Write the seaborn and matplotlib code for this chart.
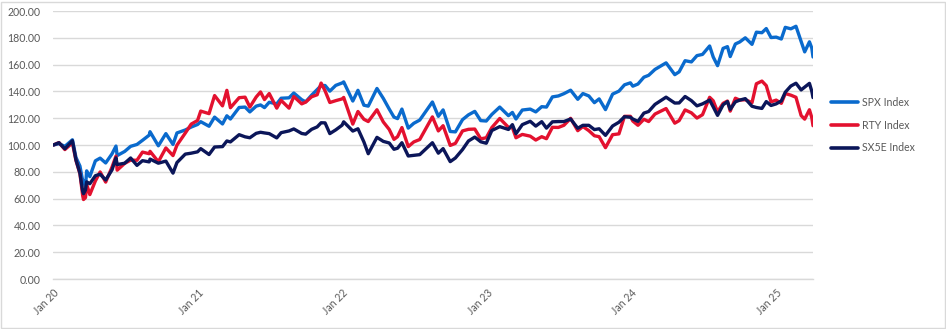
import matplotlib
matplotlib.use("Agg")
import matplotlib.pyplot as plt
from matplotlib.lines import Line2D
from matplotlib.patches import Rectangle
from matplotlib.ticker import FuncFormatter, MultipleLocator
import pandas as pd
import seaborn as sns

# Index levels rebased to 100 at the start of 2020
dates = [
    # 2020
    "2020-01-02", "2020-01-16", "2020-01-31", "2020-02-19", "2020-02-28", "2020-03-09",
    "2020-03-16", "2020-03-18", "2020-03-23", "2020-03-26", "2020-04-03", "2020-04-17",
    "2020-04-29", "2020-05-13", "2020-05-29", "2020-06-08", "2020-06-11", "2020-06-30",
    "2020-07-15", "2020-07-31", "2020-08-14", "2020-08-31", "2020-09-02", "2020-09-23",
    "2020-10-12", "2020-10-30", "2020-11-09", "2020-11-30", "2020-12-15", "2020-12-31",
    # 2021
    "2021-01-08", "2021-01-29", "2021-02-12", "2021-03-04", "2021-03-15", "2021-03-24",
    "2021-04-15", "2021-04-30", "2021-05-12", "2021-05-28", "2021-06-08", "2021-06-18",
    "2021-06-30", "2021-07-19", "2021-07-30", "2021-08-19", "2021-08-31", "2021-09-20",
    "2021-09-30", "2021-10-15", "2021-10-29", "2021-11-08", "2021-11-18", "2021-11-30",
    "2021-12-15", "2021-12-31",
    # 2022
    "2022-01-04", "2022-01-27", "2022-02-09", "2022-02-24", "2022-03-07", "2022-03-29",
    "2022-04-14", "2022-04-29", "2022-05-11", "2022-05-20", "2022-05-31", "2022-06-16",
    "2022-06-30", "2022-07-15", "2022-08-16", "2022-08-31", "2022-09-12", "2022-09-30",
    "2022-10-13", "2022-10-31", "2022-11-15", "2022-12-01", "2022-12-16", "2022-12-30",
    # 2023
    "2023-01-13", "2023-02-02", "2023-02-24", "2023-03-06", "2023-03-15", "2023-03-31",
    "2023-04-20", "2023-05-04", "2023-05-19", "2023-05-31", "2023-06-15", "2023-06-30",
    "2023-07-14", "2023-07-31", "2023-08-18", "2023-08-31", "2023-09-15", "2023-09-29",
    "2023-10-11", "2023-10-27", "2023-11-14", "2023-11-30", "2023-12-14", "2023-12-29",
    # 2024
    "2024-01-04", "2024-01-17", "2024-02-01", "2024-02-13", "2024-02-29", "2024-03-28",
    "2024-04-19", "2024-04-30", "2024-05-15", "2024-05-31", "2024-06-14", "2024-06-28",
    "2024-07-16", "2024-07-25", "2024-08-05", "2024-08-19", "2024-08-30", "2024-09-06",
    "2024-09-19", "2024-09-30", "2024-10-14", "2024-10-31", "2024-11-11", "2024-11-25",
    "2024-12-06", "2024-12-18", "2024-12-31",
    # 2025
    "2025-01-13", "2025-01-23", "2025-02-06", "2025-02-19", "2025-03-04", "2025-03-13",
    "2025-03-25", "2025-03-31", "2025-04-03",
]

spx = [
    100.0, 101.0, 99.0, 103.9, 90.7, 84.3, 73.2, 73.6, 68.7, 80.7, 76.4, 88.2,
    90.2, 86.6, 93.4, 99.2, 92.1, 95.2, 99.0, 100.4, 103.5, 107.4, 109.9, 99.4,
    108.5, 100.4, 109.0, 111.2, 113.4, 115.3,
    117.4, 114.0, 120.8, 115.7, 121.8, 119.4, 128.0, 128.3, 124.7, 129.0, 129.9, 127.9,
    131.9, 130.7, 134.9, 135.2, 138.8, 133.8, 132.2, 137.2, 141.4, 144.3, 144.4, 140.2,
    144.5, 146.3,
    147.1, 132.8, 140.8, 129.7, 129.0, 142.2, 134.8, 126.8, 120.8, 119.7, 126.8, 112.6,
    116.2, 118.6, 132.1, 121.4, 126.2, 110.1, 109.8, 118.9, 122.5, 125.1, 118.2, 117.9,
    122.8, 128.3, 121.9, 124.3, 119.4, 126.1, 126.8, 124.7, 128.6, 128.3, 135.9, 136.6,
    138.3, 140.9, 134.1, 138.4, 136.6, 131.6, 134.4, 126.4, 138.0, 140.2, 144.9, 146.4,
    143.9, 145.5, 150.6, 152.0, 156.4, 161.3, 152.5, 154.6, 162.9, 162.0, 166.7, 167.6,
    173.9, 165.7, 159.2, 172.1, 173.4, 166.0, 175.4, 176.9, 180.0, 175.1, 184.2, 183.8,
    186.9, 180.2, 180.5,
    179.1, 187.8, 186.7, 188.6, 177.4, 169.5, 177.0, 172.3, 165.7,
]

rty = [
    100.0, 101.8, 96.6, 101.6, 88.4, 78.6, 62.1, 59.3, 60.7, 70.7, 63.0, 73.2,
    79.9, 72.3, 83.5, 91.7, 81.2, 86.3, 88.7, 88.6, 94.7, 93.5, 95.3, 87.5,
    97.8, 92.1, 99.9, 108.9, 115.6, 118.3,
    125.3, 123.4, 136.9, 129.2, 140.8, 127.8, 135.3, 135.7, 128.3, 135.8, 139.6, 133.9,
    138.4, 127.5, 133.3, 127.5, 136.2, 130.7, 132.0, 136.0, 137.5, 146.2, 140.4, 131.7,
    133.1, 134.4,
    135.5, 115.6, 125.0, 119.2, 117.5, 126.3, 117.2, 111.6, 104.2, 106.2, 113.0, 98.8,
    102.3, 104.1, 121.0, 110.5, 114.4, 99.7, 101.2, 110.5, 111.7, 111.9, 104.6, 105.4,
    113.0, 119.8, 113.2, 113.0, 105.4, 107.9, 106.6, 103.7, 106.2, 104.7, 113.2, 113.1,
    114.7, 119.9, 110.7, 113.8, 110.7, 106.9, 106.2, 98.0, 107.7, 108.3, 121.4, 121.4,
    117.9, 114.7, 119.2, 117.5, 123.1, 127.2, 116.3, 118.2, 126.2, 124.0, 120.1, 122.6,
    135.6, 133.0, 124.8, 131.1, 132.8, 125.3, 134.9, 133.5, 133.8, 131.6, 145.7, 147.7,
    144.3, 132.2, 133.5,
    131.1, 138.4, 137.2, 135.6, 122.0, 119.3, 126.3, 120.4, 114.4,
]

sx5e = [
    100.0, 101.7, 97.2, 103.2, 88.9, 79.0, 65.4, 63.7, 66.4, 72.5, 71.1, 77.1,
    78.2, 73.9, 81.4, 90.4, 85.4, 86.4, 90.3, 84.8, 88.3, 87.4, 89.5, 86.4,
    88.0, 79.0, 86.9, 93.2, 93.9, 94.9,
    97.3, 92.9, 98.5, 98.8, 103.0, 102.3, 107.7, 106.1, 105.4, 108.7, 109.5, 109.0,
    108.5, 105.3, 109.2, 110.5, 112.0, 108.6, 108.1, 111.7, 113.5, 116.6, 116.5, 108.5,
    111.3, 114.8,
    117.3, 110.4, 112.1, 102.3, 93.5, 105.7, 102.7, 101.5, 96.8, 97.6, 101.7, 91.8,
    92.3, 92.8, 101.7, 93.9, 97.3, 87.6, 90.3, 96.6, 103.0, 105.9, 102.4, 101.3,
    110.8, 113.7, 111.6, 115.2, 108.4, 115.2, 117.7, 114.1, 117.4, 112.6, 117.3, 117.5,
    117.5, 119.4, 112.5, 114.7, 114.7, 111.5, 112.1, 107.2, 114.2, 117.0, 121.1, 120.7,
    119.4, 117.6, 123.8, 125.0, 130.3, 135.7, 131.3, 131.4, 136.2, 133.1, 129.2, 130.7,
    133.5, 128.5, 122.1, 130.0, 132.4, 126.6, 132.2, 133.5, 134.6, 128.9, 128.0, 127.3,
    132.4, 129.5, 130.7,
    132.9, 139.4, 144.0, 146.1, 141.1, 143.2, 146.0, 140.1, 135.4,
]

series_names = ["SPX Index", "RTY Index", "SX5E Index"]
series_colors = ["#0A6ACD", "#E3112F", "#0B1659"]
year_ticks = ["2020-01-01", "2021-01-01", "2022-01-01", "2023-01-01", "2024-01-01", "2025-01-01"]
year_labels = ["Jan 20", "Jan 21", "Jan 22", "Jan 23", "Jan 24", "Jan 25"]

assert len(dates) == len(spx) == len(rty) == len(sx5e)

df = pd.DataFrame({
    "Date": pd.to_datetime(dates),
    "SPX Index": spx,
    "RTY Index": rty,
    "SX5E Index": sx5e,
})
long_df = df.melt(id_vars="Date", var_name="Index", value_name="Level")

sns.set_theme(style="white")
plt.rcParams["font.family"] = ["Lato", "DejaVu Sans"]

W, H = 946, 329
fig = plt.figure(figsize=(W / 100, H / 100), dpi=100)
ax = fig.add_axes([53 / W, 1 - 279 / H, (813 - 53) / W, (279 - 11) / H])

palette = dict(zip(series_names, series_colors))
sns.lineplot(data=long_df, x="Date", y="Level", hue="Index", hue_order=series_names,
             palette=palette, linewidth=2.4, ax=ax, legend=False)

grid_c = "#D9D9D9"
text_c = "#595959"

ax.set_ylim(0, 200)
ax.yaxis.set_major_locator(MultipleLocator(20))
ax.yaxis.set_major_formatter(FuncFormatter(lambda v, _: f"{v:.2f}"))
ax.set_xlim(pd.Timestamp("2020-01-01"), pd.Timestamp("2025-04-03"))
ax.set_xticks(pd.to_datetime(year_ticks))
ax.set_xticklabels(year_labels, rotation=45, ha="right", rotation_mode="anchor")

ax.grid(axis="y", color=grid_c, linewidth=1)
ax.grid(axis="x", visible=False)
ax.set_axisbelow(True)
for side in ["top", "right", "left"]:
    ax.spines[side].set_visible(False)
ax.spines["bottom"].set_color(grid_c)
ax.spines["bottom"].set_linewidth(1)
ax.tick_params(axis="y", length=0, pad=9, labelsize=7.6, labelcolor=text_c)
ax.tick_params(axis="x", length=4, width=1, color=grid_c, pad=2, labelsize=7.6, labelcolor=text_c)
ax.set_xlabel("")
ax.set_ylabel("")

handles = [Line2D([0], [0], color=c, linewidth=2.6) for c in series_colors]
fig.legend(handles, series_names, loc="upper left", bbox_to_anchor=(831 / W, 1 - 97 / H),
           frameon=False, fontsize=7.6, handlelength=2.6, handletextpad=0.35,
           labelspacing=1.1, borderaxespad=0, borderpad=0, labelcolor=text_c)

fig.patches.append(Rectangle((0.5 / W, 1.5 / H), 944 / W, 326 / H, transform=fig.transFigure,
                             fill=False, edgecolor=grid_c, linewidth=1))

fig.savefig("out.png", dpi=100)
